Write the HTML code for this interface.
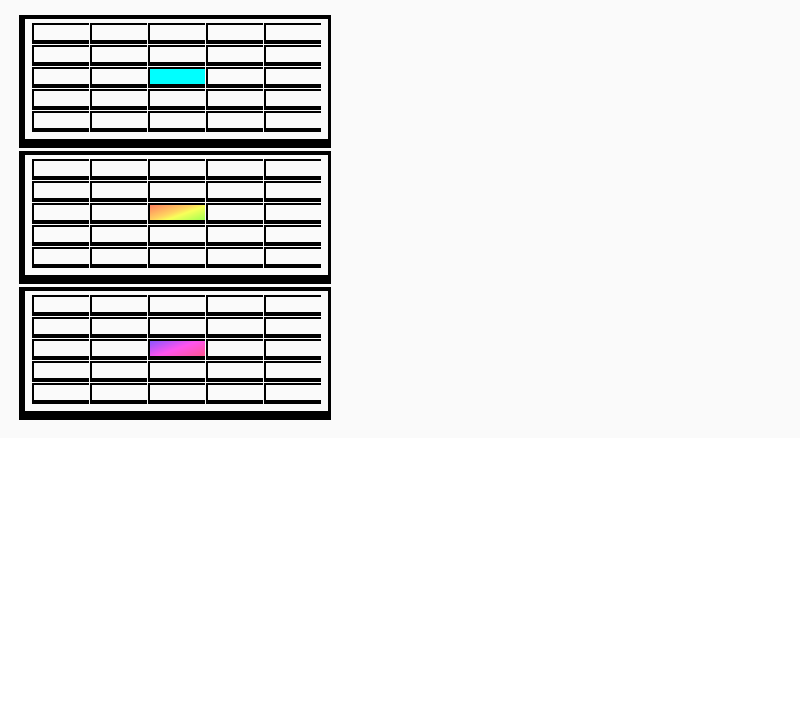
<!DOCTYPE html>
<html><head><meta charset="utf-8"><style>
html,body{margin:0;padding:0;width:800px;height:725px;background:#fff;overflow:hidden;font-family:"Liberation Sans",sans-serif}
#bg{position:absolute;left:0;top:0;width:800px;height:438px;background:#fafafa}
.panel{position:absolute;left:19px;width:303px;height:120px;border-style:solid;border-color:#000;border-width:4px 3px 9px 6px;background:#fafafa;box-sizing:content-box}
.cell{position:absolute;width:55px;height:15px;border-style:solid;border-color:#000;border-width:2px 0 4px 2px;background:#fafafa}
</style></head><body>
<div id="bg"></div>
<div id="root"></div>
<script>
const panelTops=[15,151,287];
const fills=['#00ffff','linear-gradient(160deg,#ff7f5f 0%,#ffd460 45%,#f8ff5a 60%,#a0ff50 100%)','linear-gradient(160deg,#8a55ff 0%,#ff55ee 50%,#ff5590 100%)'];
const names=['cyan-panel','warm-gradient-panel','cool-gradient-panel'];
const root=document.getElementById('root');
panelTops.forEach((t,p)=>{
  const pn=document.createElement('div');
  pn.className='panel';pn.style.top=t+'px';
  
  
  root.appendChild(pn);
  for(let r=0;r<5;r++)for(let c=0;c<5;c++){
    const d=document.createElement('div');
    d.className='cell';
    d.style.left=(7+c*58)+'px';
    d.style.top=(4+r*22)+'px';
    if(r===2&&c===2){d.style.background=fills[p];}
    
    
    pn.appendChild(d);
  }
});
</script>
</body></html>
